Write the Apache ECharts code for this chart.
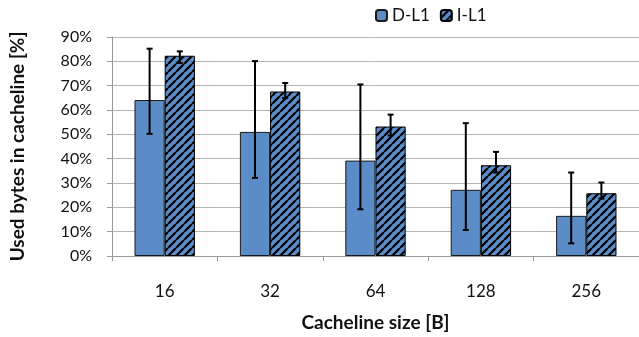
<!DOCTYPE html>
<html><head><meta charset="utf-8">
<script src="https://cdn.jsdelivr.net/npm/echarts@6/dist/echarts.min.js"></script>
<style>html,body{margin:0;padding:0;background:#fff}#c{width:639px;height:337px}</style>
</head><body><div id="c"></div>
<script>
const categories = ['16', '32', '64', '128', '256'];
const seriesNames = ['D-L1', 'I-L1'];
const dValues = [64.1, 51.0, 39.2, 27.2, 16.5];
const dErrLow = [50.2, 32.1, 19.2, 10.7, 5.2];
const dErrHigh = [85.2, 80.1, 70.5, 54.6, 34.3];
const iValues = [82.3, 67.6, 53.2, 37.3, 25.8];
const iErrLow = [79.3, 64.9, 49.5, 34.3, 23.6];
const iErrHigh = [84.1, 71.1, 58.1, 42.8, 30.2];
const yTicks = [0, 10, 20, 30, 40, 50, 60, 70, 80, 90];

const BLUE = '#5B8CC8';
const FONT = 'Lato';

function makeHatch() {
  const s = 8;
  const c = document.createElement('canvas');
  c.width = s; c.height = s;
  const g = c.getContext('2d');
  g.fillStyle = BLUE; g.fillRect(0, 0, s, s);
  g.strokeStyle = '#000'; g.lineWidth = 2.2;
  g.beginPath();
  for (const o of [-s, 0, s]) { g.moveTo(o, s); g.lineTo(o + s, 0); }
  g.stroke();
  return c;
}
const hatch = { image: makeHatch(), repeat: 'repeat' };

const BAR_FRAC = 0.2865;
function errSeries(lows, highs, side) {
  return {
    type: 'custom',
    z: 10,
    silent: true,
    data: categories.map((c, i) => [i, lows[i], highs[i]]),
    encode: { x: 0, y: [1, 2] },
    renderItem: function (params, api) {
      const x = api.value(0);
      const lo = api.coord([x, api.value(1)]);
      const hi = api.coord([x, api.value(2)]);
      const band = api.size([1, 0])[0];
      const cx = lo[0] + side * band * BAR_FRAC / 2;
      const cap = 3;
      const st = { stroke: '#000', lineWidth: 2 };
      return {
        type: 'group',
        children: [
          { type: 'line', shape: { x1: cx, y1: lo[1], x2: cx, y2: hi[1] }, style: st },
          { type: 'line', shape: { x1: cx - cap, y1: lo[1], x2: cx + cap, y2: lo[1] }, style: st },
          { type: 'line', shape: { x1: cx - cap, y1: hi[1], x2: cx + cap, y2: hi[1] }, style: st }
        ]
      };
    }
  };
}

const chart = echarts.init(document.getElementById('c'), null, { renderer: 'canvas' });
chart.setOption({
  animation: false,
  backgroundColor: '#fff',
  textStyle: { fontFamily: FONT },
  legend: {
    top: 2, left: 370,
    itemWidth: 11, itemHeight: 11, itemGap: 10,
    textStyle: { fontFamily: FONT, fontSize: 17, color: '#111' },
    data: seriesNames
  },
  grid: { left: 112, top: 37, width: 532, height: 219 },
  xAxis: {
    type: 'category',
    data: categories,
    name: 'Cacheline size [B]',
    nameLocation: 'middle',
    nameGap: 57,
    nameTextStyle: { fontFamily: FONT, fontSize: 19, fontWeight: 'bold', color: '#111' },
    axisLine: { lineStyle: { color: '#999' } },
    axisTick: { show: true, length: 5, interval: 0, lineStyle: { color: '#999' } },
    axisLabel: { fontFamily: FONT, fontSize: 17, color: '#111', margin: 27 }
  },
  yAxis: {
    type: 'value',
    min: 0, max: 90, interval: 10,
    name: 'Used bytes in cacheline [%]',
    nameLocation: 'middle',
    nameGap: 85,
    nameTextStyle: { fontFamily: FONT, fontSize: 19, fontWeight: 'bold', color: '#111' },
    axisLine: { show: true, lineStyle: { color: '#999' } },
    axisTick: { show: true, length: 5, lineStyle: { color: '#999' } },
    splitLine: { lineStyle: { color: '#b4b4b4' } },
    axisLabel: {
      fontFamily: FONT, fontSize: 16, color: '#111', margin: 20,
      formatter: v => (yTicks.includes(v) ? v + '%' : '')
    }
  },
  series: [
    {
      name: seriesNames[0], type: 'bar', data: dValues,
      barGap: '0%', barCategoryGap: '42.7%',
      itemStyle: { color: BLUE, borderColor: '#1a1a1a', borderWidth: 1 }
    },
    {
      name: seriesNames[1], type: 'bar', data: iValues,
      barGap: '0%', barCategoryGap: '42.7%',
      itemStyle: { color: hatch, borderColor: '#000', borderWidth: 1 }
    },
    errSeries(dErrLow, dErrHigh, -1),
    errSeries(iErrLow, iErrHigh, 1)
  ]
});
</script></body></html>
